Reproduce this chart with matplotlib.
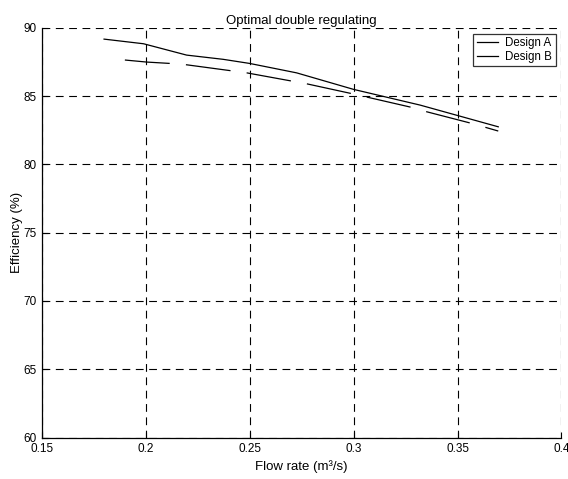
import matplotlib
matplotlib.use("Agg")
from matplotlib import pyplot as plt

# flow rate (m3/s) and efficiency (%) for both designs
flow_a = [0.180, 0.199, 0.2197, 0.2373, 0.250, 0.2726, 0.300, 0.332, 0.3696]
eff_a = [89.17, 88.83, 88.00, 87.69, 87.39, 86.70, 85.49, 84.34, 82.75]

flow_b = [0.190, 0.2005, 0.2117, 0.2197, 0.2413, 0.2486, 0.2702, 0.2774,
          0.300, 0.328, 0.3352, 0.3568, 0.3696]
eff_b = [87.64, 87.49, 87.39, 87.29, 86.85, 86.70, 86.10, 85.90,
         85.15, 84.17, 83.85, 83.00, 82.44]

x_ticks = [0.15, 0.2, 0.25, 0.3, 0.35, 0.4]
x_tick_labels = ["0.15", "0.2", "0.25", "0.3", "0.35", "0.4"]
y_ticks = [60, 65, 70, 75, 80, 85, 90]


def main():
    plt.rcParams["font.family"] = ["Liberation Sans", "DejaVu Sans"]
    fig = plt.figure(figsize=(5.68, 4.79), dpi=100)
    ax = fig.add_axes([0.0734, 0.0866, 0.9151, 0.8554])

    ax.plot(flow_a, eff_a, color="black", lw=0.9, label="Design A")
    ax.plot(flow_b, eff_b, color="black", lw=0.9, dashes=(36, 13),
            label="Design B")

    ax.set_xlim(0.15, 0.4)
    ax.set_ylim(60, 90)
    ax.set_xticks(x_ticks)
    ax.set_xticklabels(x_tick_labels)
    ax.set_yticks(y_ticks)
    ax.tick_params(direction="in", length=4, labelsize=8.5, width=0.8)
    ax.tick_params(axis="x", pad=4)
    ax.tick_params(axis="y", pad=3.5)
    for side in ("top", "right"):
        ax.spines[side].set_visible(False)
    for side in ("left", "bottom"):
        ax.spines[side].set_linewidth(0.9)

    ax.grid(True, color="black", ls=(0, (7, 5)), lw=0.8)
    ax.set_axisbelow(True)

    ax.set_xlabel("Flow rate (m³/s)", fontsize=9.5, labelpad=4)
    ax.set_ylabel("Efficiency (%)", fontsize=9.5, labelpad=0.5)
    ax.set_title("Optimal double regulating", fontsize=9.5, pad=3)

    leg = ax.legend(loc="upper right", fontsize=8.3, frameon=True, fancybox=False,
                    handlelength=1.9, borderaxespad=0.5, borderpad=0.3,
                    labelspacing=0.15, handletextpad=0.6)
    leg.get_frame().set_edgecolor("black")
    leg.get_frame().set_linewidth(0.9)
    for h in leg.get_lines():
        h.set_linestyle("-")

    fig.savefig("out.png", dpi=100)


if __name__ == "__main__":
    main()
